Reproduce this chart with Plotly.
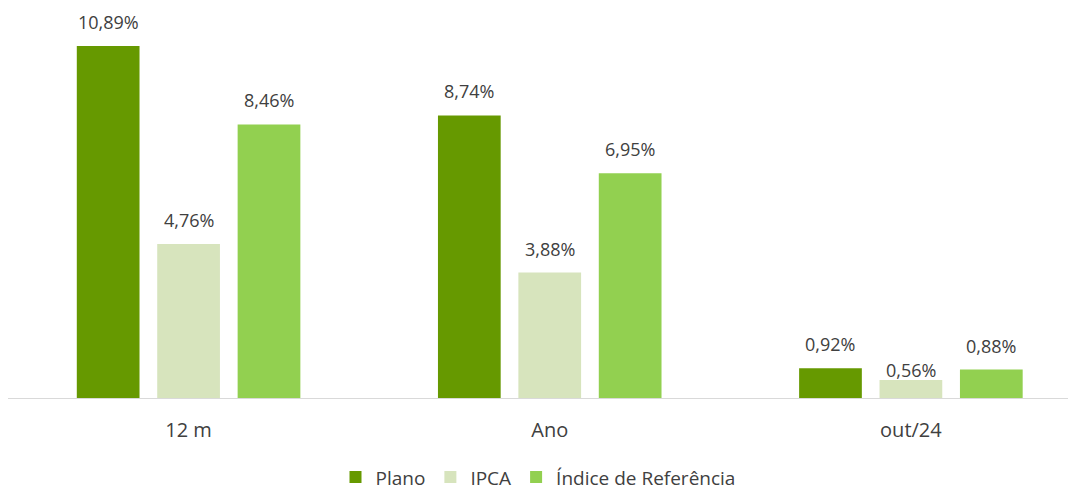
import plotly.graph_objects as go

categories = ["12 m", "Ano", "out/24"]
series_names = ["Plano", "IPCA", "Índice de Referência"]
plano = [10.89, 8.74, 0.92]
ipca = [4.76, 3.88, 0.56]
indice = [8.46, 6.95, 0.88]
colors = ["#669900", "#D7E4BD", "#92D050"]

values = [plano, ipca, indice]
xpos = list(range(len(categories)))

def fmt(v):
    return f"{v:.2f}".replace(".", ",") + "%"

FONT = "Open Sans"
TXT = "#404040"

fig = go.Figure()
for name, vals, col in zip(series_names, values, colors):
    fig.add_trace(go.Bar(
        x=xpos, y=vals, name=name, marker=dict(color=col, line=dict(width=0)),
        hoverinfo="skip",
    ))

# data labels
offsets = [-0.223, 0.0, 0.223]
for si, vals in enumerate(values):
    for ci, v in enumerate(vals):
        shift = 24
        if v < 0.6:
            shift = 10
        fig.add_annotation(x=xpos[ci] + offsets[si], y=v, text=fmt(v), showarrow=False,
                           yshift=shift, font=dict(family=FONT, size=18, color=TXT))

fig.update_layout(
    width=1077, height=490,
    margin=dict(l=8, r=9, t=10, b=92, autoexpand=False),
    plot_bgcolor="white", paper_bgcolor="white",
    barmode="group", bargap=0.332, bargroupgap=0.22,
    font=dict(family=FONT, size=18, color=TXT),
    showlegend=True,
    legend=dict(orientation="h", x=0.5, xanchor="center", yref="container",
                y=0.026, yanchor="middle",
                font=dict(family=FONT, size=19, color=TXT), itemwidth=30,
                traceorder="normal"),
    xaxis=dict(tickvals=xpos, ticktext=categories, range=[-0.5, 2.435],
               showgrid=False, zeroline=False, showline=True, linecolor="#D9D9D9",
               linewidth=1, ticks="", ticklabelstandoff=14,
               tickfont=dict(family=FONT, size=20, color=TXT)),
    yaxis=dict(range=[0, 12], visible=False, showgrid=False, zeroline=False),
)

fig.write_html("out.html", config={"displayModeBar": False},
               post_script="document.body.style.margin='0';")
